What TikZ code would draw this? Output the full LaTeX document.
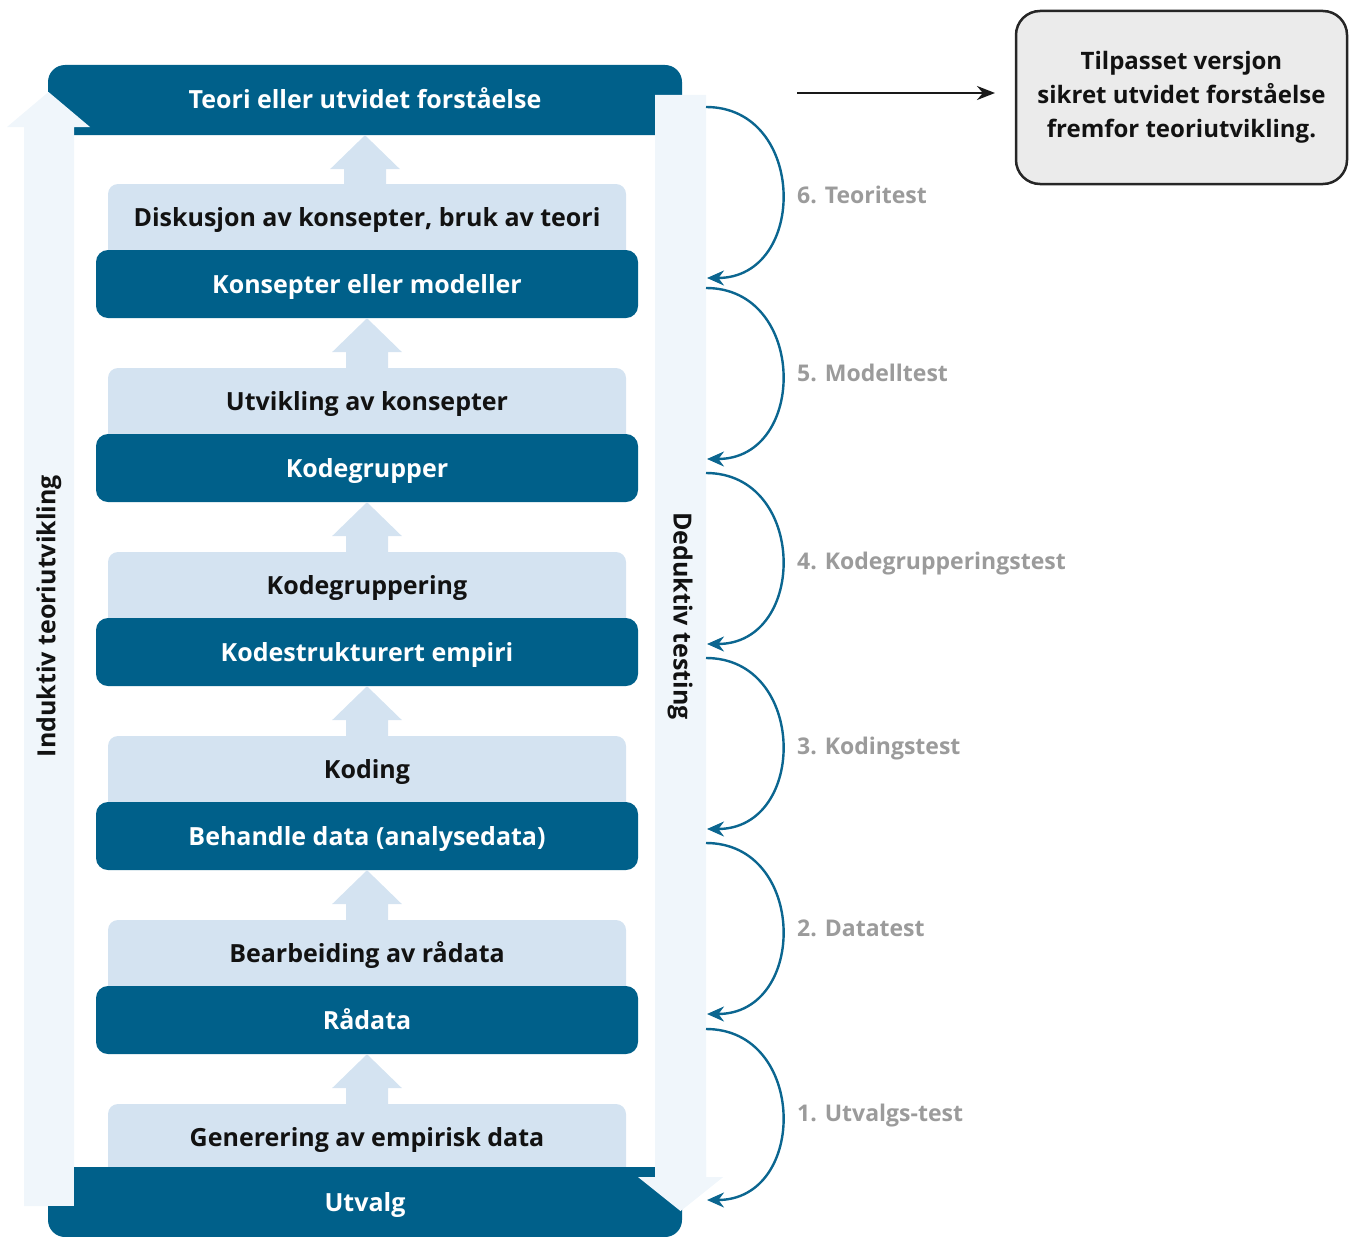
\documentclass[tikz,border=0pt]{standalone}
\usepackage{fontspec}
\setmainfont{Open Sans}
\usetikzlibrary{arrows.meta}
\definecolor{darkc}{HTML}{00608A}
\definecolor{lightc}{HTML}{D4E3F1}
\definecolor{palec}{HTML}{F0F6FB}
\definecolor{grayt}{HTML}{9B9B9B}
\definecolor{notefill}{HTML}{EBEBEB}
\definecolor{arcc}{HTML}{0B6690}
\newcommand{\mainsz}{\fontsize{25}{30}\selectfont\bfseries}
\newcommand{\labsz}{\fontsize{23}{28}\selectfont\bfseries}
\tikzset{
  fixtext/.style={text height=22pt, text depth=4pt},
  darkbox/.style={fill=darkc, text=white, rounded corners=12pt, minimum width=542pt, minimum height=68pt, inner sep=0pt, font=\mainsz, fixtext},
  bigdark/.style={fill=darkc, text=white, rounded corners=17pt, minimum width=634pt, minimum height=70pt, inner sep=0pt, font=\mainsz, fixtext},
  lightbg/.style={fill=lightc, rounded corners=10pt, minimum width=518pt, minimum height=86pt, inner sep=0pt},
  lighttext/.style={text=black!93, font=\mainsz, inner sep=0pt, fixtext},
  uparrow/.style={fill=lightc},
  palearrow/.style={fill=palec},
  testarc/.style={draw=arcc, line width=2.4pt, -{Stealth[length=17pt,width=15pt]}},
  testlabel/.style={text=grayt, font=\labsz, anchor=west, inner sep=0pt},
  note/.style={draw=black!85, line width=2.5pt, fill=notefill, rounded corners=24pt, minimum width=331pt, minimum height=173pt, align=center, font=\fontsize{24}{34}\selectfont\bfseries, text=black!93},
  sidetext/.style={text=black!93, font=\mainsz, inner sep=0pt}
}
\begin{document}
\begin{tikzpicture}[x=1pt,y=-1pt]
\useasboundingbox (0,0) rectangle (1356,1236);
% top dark box
\node[bigdark] (top) at (365,100) {Teori eller utvidet forståelse};
% pale side arrows
\fill[palearrow] (24,1206) -- (24,127) -- (7,127) -- (48.5,92) -- (90,127) -- (74,127) -- (74,1206) -- cycle;
\fill[palearrow] (655,95) -- (655,1177) -- (638,1177) -- (680.5,1211) -- (723,1177) -- (706,1177) -- (706,95) -- cycle;
\node[sidetext, rotate=90] (ind) at (49,616) {Induktiv teoriutvikling};
\node[sidetext, rotate=-90] (ded) at (680,616) {Deduktiv testing};
% levels
\node[lightbg] (l1bg) at (367,227) {};
\node[lighttext] (l1) at (367,217) {Diskusjon av konsepter, bruk av teori};
\node[darkbox] (d1) at (367,284) {Konsepter eller modeller};
\node[lightbg] (l2bg) at (367,411) {};
\node[lighttext] (l2) at (367,401) {Utvikling av konsepter};
\node[darkbox] (d2) at (367,468) {Kodegrupper};
\node[lightbg] (l3bg) at (367,595) {};
\node[lighttext] (l3) at (367,585) {Kodegruppering};
\node[darkbox] (d3) at (367,652) {Kodestrukturert empiri};
\node[lightbg] (l4bg) at (367,779) {};
\node[lighttext] (l4) at (367,769) {Koding};
\node[darkbox] (d4) at (367,836) {Behandle data (analysedata)};
\node[lightbg] (l5bg) at (367,963) {};
\node[lighttext] (l5) at (367,953) {Bearbeiding av rådata};
\node[darkbox] (d5) at (367,1020) {Rådata};
\node[lightbg] (l6bg) at (367,1147) {};
\node[lighttext] (l6) at (367,1137) {Generering av empirisk data};
% bottom box over light box 6
\node[bigdark] (utv) at (365,1202) {Utvalg};
\fill[palearrow] (24,1160) rectangle (74,1206);
\fill[palearrow] (655,1160) -- (655,1177) -- (638,1177) -- (680.5,1211) -- (723,1177) -- (706,1177) -- (706,1160) -- cycle;
% up arrows
\foreach \a in {top,d1,d2,d3,d4,d5}{
  \fill[uparrow] (\a.south) -- ++(35,34) -- ++(-14,0) -- ++(0,18) -- ++(-42,0) -- ++(0,-18) -- ++(-14,0) -- cycle;
}
% test arcs
\foreach \s/\n in {107/1,288/2,473/3,658/4,843/5,1029/6}{
  \coordinate (s\n) at (706,\s);
  \coordinate (e\n) at (707,\s+171);
  \draw[testarc] (s\n) .. controls +(101,0) and +(101,0) .. (e\n);
}
\node[testlabel] (t6) at (797,195) {6. Teoritest};
\node[testlabel] (t5) at (797,373) {5. Modelltest};
\node[testlabel] (t4) at (797,564) {4. Kodegrupperingstest};
\node[testlabel] (t3) at (797,749) {3. Kodingstest};
\node[testlabel] (t2) at (797,928) {2. Datatest};
\node[testlabel] (t1) at (797,1116) {1. Utvalgs-test};
% note
\node[note] (note) at (1181.5,97.5) {Tilpasset versjon\\sikret utvidet forståelse\\fremfor teoriutvikling.};
\coordinate (ha) at (797,93);
\coordinate (hb) at (995,93);
\draw[line width=2.2pt, black!90, -{Stealth[length=18pt,width=14pt]}] (ha) -- (hb);
\end{tikzpicture}
\end{document}
